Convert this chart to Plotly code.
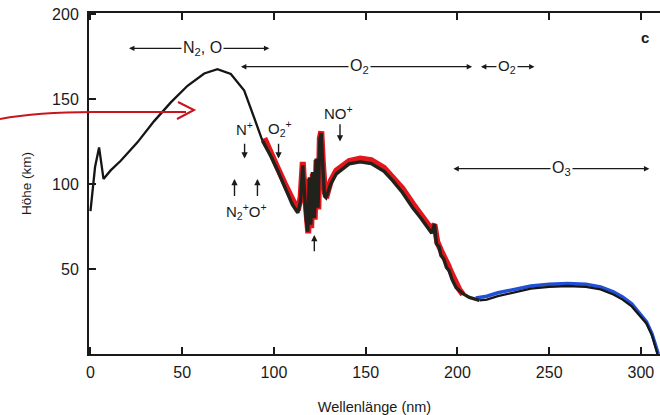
import plotly.graph_objects as go

# ---- data ----
black_x = [0, 2.5, 4.7, 7.1, 11, 16.5, 25.6, 34.7, 43.8, 52.9, 62, 69.2, 76.5, 83.8, 89.2, 93.7,
           98, 102, 106, 110, 113, 114.5, 115.7, 116.5, 117.5, 118.4, 119.3, 120.1, 121, 122, 123,
           124, 125, 125.7, 126.5, 127.5, 128.4, 131, 134, 141, 147, 153, 160, 164.7, 170, 175.6,
           180, 184.7, 186, 187.5, 188.5, 190, 191, 192.5, 194, 195.5, 197, 199.3, 203, 206.5,
           212, 216, 222, 230, 240, 250, 260, 270, 278, 285, 290, 295, 300, 303, 306, 308, 309]
black_y = [84, 110, 121.5, 103, 108, 113.7, 124.5, 137, 148, 157.8, 165, 167.6, 164.7, 155, 139,
           125.5, 117, 108, 98, 88, 83, 90, 111, 95, 80, 72, 104, 76, 107, 80, 115, 86, 126, 130,
           110, 93, 92, 100, 106, 111.8, 113, 112, 107.5, 102, 95, 86, 80, 72.5, 71, 76.5, 65, 63,
           58, 56, 51, 49, 44, 39, 35.5, 33.3, 31.5, 32, 34, 36, 38.5, 39.5, 40, 39.5, 38, 35, 32,
           28, 22, 18, 11, 3, 0]

red_x = [94.8, 98, 102, 106, 110, 113, 114.5, 115.7, 116.7, 117.7, 118.7, 119.5, 120.3, 121.2,
         122.2, 123.2, 124.2, 125, 125.8, 126.7, 127.8, 129, 131, 134, 141, 147, 153, 160, 165,
         170, 176, 181, 185.5, 187.5, 189, 191, 193, 195, 197, 199, 201, 203]
red_y = [127, 118.5, 109.5, 100, 90, 84.5, 92, 113, 96, 80, 71, 103, 74, 106, 79, 114, 85, 127,
         131, 112, 95, 94, 102, 108, 113.5, 115, 114, 109.5, 104, 97.5, 88, 81, 74, 76, 66, 61,
         57, 52, 47, 42, 38, 35]

blue_x = [210, 216, 222, 230, 240, 250, 260, 270, 278, 285, 290, 295, 300, 303, 306, 308, 309.5]
blue_y = [33, 34, 36, 38, 40, 41, 41.5, 41, 39.5, 36.5, 33.5, 29.5, 23, 19, 12, 5, 0]

x_ticks = [0, 50, 100, 150, 200, 250, 300]
y_ticks = [50, 100, 150, 200]

FONT = "Liberation Sans, Arial, sans-serif"
INK = "#1a1a1a"
L, T, B, W = 89, 13, 61, 571
H = 415 - T - B

# split the black curve: thin outer parts, heavier middle part (as printed)
i0 = next(i for i, v in enumerate(black_x) if v >= 93.7)
i1 = next(i for i, v in enumerate(black_x) if v >= 212)

fig = go.Figure()
fig.add_trace(go.Scatter(x=red_x, y=red_y, mode="lines",
                         line=dict(color="#e3161b", width=6), hoverinfo="skip"))
fig.add_trace(go.Scatter(x=blue_x, y=blue_y, mode="lines",
                         line=dict(color="#2150d8", width=3.5), hoverinfo="skip"))
fig.add_trace(go.Scatter(x=black_x[:i0 + 1], y=black_y[:i0 + 1], mode="lines",
                         line=dict(color="#151515", width=2.3), hoverinfo="skip"))
fig.add_trace(go.Scatter(x=black_x[i0:i1 + 1], y=black_y[i0:i1 + 1], mode="lines",
                         line=dict(color="#22221c", width=3.4), hoverinfo="skip"))
fig.add_trace(go.Scatter(x=black_x[i1:], y=black_y[i1:], mode="lines",
                         line=dict(color="#151515", width=2.3), hoverinfo="skip"))

ann = []


def span_arrow(x0, x1, y):
    ann.append(dict(x=x1, y=y, ax=x0, ay=y, xref="x", yref="y", axref="x", ayref="y",
                    text="", showarrow=True, arrowhead=2, arrowside="end+start",
                    arrowsize=0.9, arrowwidth=1.2, arrowcolor=INK))


def label(x, y, text, size=14, bg=True):
    ann.append(dict(x=x, y=y, xref="x", yref="y", text=text, showarrow=False,
                    font=dict(family=FONT, size=size, color=INK),
                    bgcolor="white" if bg else None, borderpad=1))


def small_arrow(x, y0, y1):
    ann.append(dict(x=x, y=y1, ax=x, ay=y0, xref="x", yref="y", axref="x", ayref="y",
                    text="", showarrow=True, arrowhead=2, arrowsize=0.9, arrowwidth=1.4,
                    arrowcolor=INK))


span_arrow(20.2, 97.5, 179.8)
label(61, 179.8, "N<sub>2</sub>, O", 16)
span_arrow(81.2, 208, 169)
label(146.6, 169, "O<sub>2</sub>", 16)
span_arrow(212, 242, 169)
label(227, 169, "O<sub>2</sub>", 15)
span_arrow(197, 304.6, 109)
label(256.5, 109, "O<sub>3</sub>", 16)
ann.append(dict(x=302, y=186, xref="x", yref="y", text="<b>c</b>", showarrow=False,
                font=dict(family=FONT, size=15, color=INK)))

label(84, 132.5, "N<sup>+</sup>", 15, bg=False)
small_arrow(84, 124.5, 115)
label(103.5, 132.5, "O<sub>2</sub><sup>+</sup>", 15, bg=False)
small_arrow(102.5, 124.5, 115)
label(135, 142, "NO<sup>+</sup>", 15, bg=False)
small_arrow(136, 136, 125)
label(85, 84, "N<sub>2</sub><sup>+</sup>O<sup>+</sup>", 15, bg=False)
small_arrow(78.5, 92, 103)
small_arrow(91, 92, 103)
small_arrow(122, 59.5, 70)


def px(xp):
    return (xp - L) / W


def py(yp):
    return (415 - B - yp) / H


RED_PEN = "#c8141c"

fig.update_layout(
    width=660, height=415,
    margin=dict(l=L, r=660 - L - W, t=T, b=B, autoexpand=False),
    paper_bgcolor="white", plot_bgcolor="white",
    showlegend=False,
    annotations=ann,
    font=dict(family=FONT, size=14, color=INK),
    shapes=[
        dict(type="path", xref="paper", yref="paper",
             path="M %f,%f Q %f,%f %f,%f L %f,%f" % (
                 px(0), py(119), px(40), py(111.5), px(100), py(112), px(186), py(112)),
             line=dict(color=RED_PEN, width=2)),
        dict(type="path", xref="paper", yref="paper",
             path="M %f,%f L %f,%f L %f,%f" % (
                 px(178), py(102), px(194), py(110), px(177), py(119)),
             line=dict(color=RED_PEN, width=2)),
    ],
    xaxis=dict(range=[-0.8, 310.4], tickvals=x_ticks, ticks="inside", ticklen=7,
               tickwidth=1.5, tickcolor=INK, showline=True, linecolor=INK, linewidth=2,
               mirror="ticks", showgrid=False, zeroline=False, automargin=False,
               ticklabelstandoff=3,
               tickfont=dict(family=FONT, size=16, color=INK),
               title=dict(text="Wellenlänge (nm)", standoff=24,
                          font=dict(family=FONT, size=14.5, color=INK))),
    yaxis=dict(range=[0, 200.6], tickvals=y_ticks, ticks="inside", ticklen=7,
               tickwidth=1.5, tickcolor=INK, showline=True, linecolor=INK, linewidth=2,
               mirror=False, showgrid=False, zeroline=False, automargin=False,
               ticklabelstandoff=5,
               tickfont=dict(family=FONT, size=16, color=INK),
               title=dict(text="Höhe (km)", standoff=17,
                          font=dict(family=FONT, size=13.5, color=INK))),
)

fig.write_html("out.html", config={"displayModeBar": False},
               post_script="document.body.style.margin='0';document.body.style.padding='0';")
